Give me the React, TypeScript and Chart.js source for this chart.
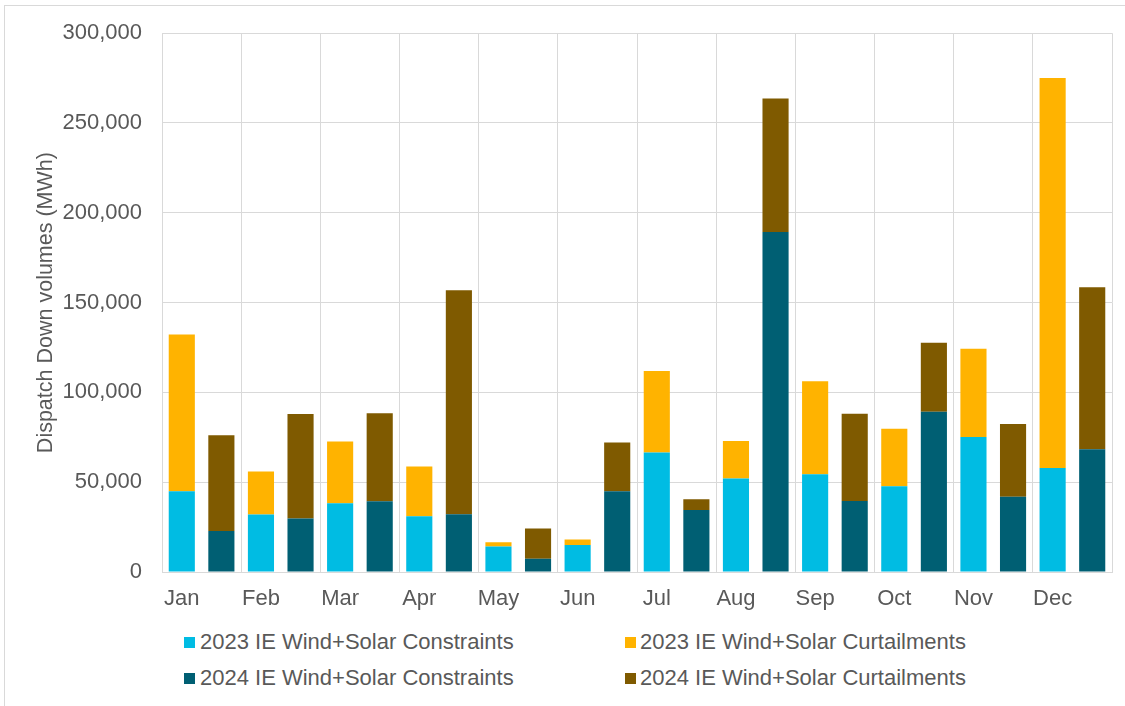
import React, { useEffect, useRef } from "react";
import { Chart, registerables } from "chart.js";

Chart.register(...registerables);

// ---- Data ----
const months = ["Jan", "Feb", "Mar", "Apr", "May", "Jun", "Jul", "Aug", "Sep", "Oct", "Nov", "Dec"];
const constraints2023 = [45000, 32000, 38300, 31000, 14200, 15100, 66500, 52100, 54400, 47700, 75200, 57900];
const curtailments2023 = [87200, 24000, 34300, 27800, 2400, 3000, 45400, 20900, 51800, 32100, 49100, 217100];
const constraints2024 = [22800, 29800, 39400, 32100, 7400, 45000, 34500, 189300, 39600, 89200, 41900, 68400];
const curtailments2024 = [53400, 58200, 49000, 124800, 16800, 27100, 6000, 74300, 48500, 38500, 40500, 90100];
const seriesNames = [
  "2023 IE Wind+Solar Constraints",
  "2023 IE Wind+Solar Curtailments",
  "2024 IE Wind+Solar Constraints",
  "2024 IE Wind+Solar Curtailments",
];
const seriesColors = ["#00BCE3", "#FFB300", "#005F73", "#7F5A00"];
const yTicksMax = 300000;
const yTickStep = 50000;
const yTitle = "Dispatch Down volumes (MWh)";

// 24 slots: each month has a 2023 slot then a 2024 slot
const slotLabels = months.flatMap((m) => [m, ""]);
const on2023 = (arr: number[]) => arr.flatMap((v) => [v, null]);
const on2024 = (arr: number[]) => arr.flatMap((v) => [null, v]);

const FONT = "'Liberation Sans', Arial, sans-serif";
const TEXT = "#595959";
const GRID = "#D9D9D9";

export default function App() {
  const ref = useRef<HTMLCanvasElement | null>(null);

  useEffect(() => {
    if (!ref.current) return;
    const seriesData = [
      on2023(constraints2023),
      on2023(curtailments2023),
      on2024(constraints2024),
      on2024(curtailments2024),
    ];
    const chart = new Chart(ref.current, {
      type: "bar",
      data: {
        labels: slotLabels,
        datasets: seriesNames.map((name, i) => ({
          label: name,
          data: seriesData[i],
          backgroundColor: seriesColors[i],
          borderWidth: 0,
          categoryPercentage: 1,
          barPercentage: 0.66,
        })),
      },
      options: {
        animation: false,
        responsive: false,
        devicePixelRatio: 1,
        layout: { padding: { left: 0, right: 13, top: 30, bottom: 0 } },
        plugins: {
          legend: { display: false },
          tooltip: { enabled: false },
        },
        scales: {
          x: {
            stacked: true,
            afterFit: (s: any) => {
              s.height = 48;
            },
            grid: {
              offset: true,
              drawTicks: false,
              lineWidth: 1,
              color: (ctx: any) =>
                ctx.index === undefined || ctx.index % 2 === 0 ? GRID : "rgba(0,0,0,0)",
            },
            border: { display: true, color: GRID, width: 1 },
            ticks: {
              autoSkip: false,
              maxRotation: 0,
              minRotation: 0,
              padding: 14,
              color: TEXT,
              font: { family: FONT, size: 22 },
            },
          },
          y: {
            stacked: true,
            min: 0,
            max: yTicksMax,
            afterFit: (s: any) => {
              s.width = 162;
            },
            grid: { drawTicks: false, color: GRID, lineWidth: 1 },
            border: { display: false },
            ticks: {
              stepSize: yTickStep,
              padding: 20,
              color: TEXT,
              font: { family: FONT, size: 22 },
              callback: (v: any) => Number(v).toLocaleString("en-US"),
            },
            title: {
              display: true,
              text: yTitle,
              color: TEXT,
              font: { family: FONT, size: 21.5 },
              padding: { top: 33, bottom: 0 },
            },
          },
        },
      },
    });
    return () => chart.destroy();
  }, []);

  const legendPos = [
    { box: 184, text: 200, y: 642 },
    { box: 625, text: 640, y: 642 },
    { box: 184, text: 200, y: 678 },
    { box: 625, text: 640, y: 678 },
  ];

  return (
    <div
      style={{
        position: "fixed",
        left: 0,
        top: 0,
        width: 1125,
        height: 706,
        overflow: "hidden",
        background: "#fff",
      }}
    >
      <div
        style={{
          position: "absolute",
          left: 4,
          top: 5,
          width: 1200,
          height: 800,
          border: `1px solid ${GRID}`,
          boxSizing: "border-box",
        }}
      />
      <canvas
        ref={ref}
        width={1125}
        height={620}
        style={{ position: "absolute", left: 0, top: 0, width: 1125, height: 620 }}
      />
      {seriesNames.map((name, i) => (
        <React.Fragment key={name}>
          <div
            style={{
              position: "absolute",
              left: legendPos[i].box,
              top: legendPos[i].y - 5.5,
              width: 11,
              height: 11,
              background: seriesColors[i],
            }}
          />
          <div
            style={{
              position: "absolute",
              left: legendPos[i].text,
              top: legendPos[i].y - 13,
              height: 26,
              lineHeight: "26px",
              fontFamily: FONT,
              fontSize: 22,
              color: TEXT,
              whiteSpace: "nowrap",
            }}
          >
            {name}
          </div>
        </React.Fragment>
      ))}
    </div>
  );
}
